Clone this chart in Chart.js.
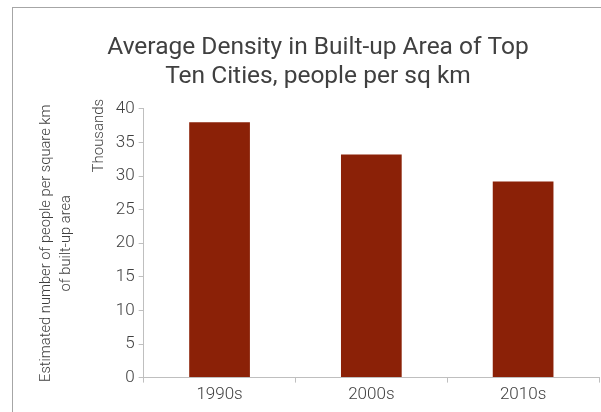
<!DOCTYPE html>
<html>
<head>
<meta charset="utf-8">
<script src="https://cdn.jsdelivr.net/npm/chart.js@4"></script>
<style>
html,body{margin:0;padding:0;background:#fff;overflow:hidden;width:601px;height:412px;}
#frame{position:absolute;left:12px;top:7px;width:596px;height:420px;border:1px solid #a6a6a6;background:#fff;}
#c{display:block;}
</style>
</head>
<body>
<div id="frame"><canvas id="c" width="596" height="399"></canvas></div>
<script>
const categories = ["1990s", "2000s", "2010s"];
const densityThousands = [38.0, 33.2, 29.2];
const titleLines = ["Average Density in Built-up Area of Top", "Ten Cities, people per sq km"];
const yTitleLines = ["Estimated number of people per square km", "of built-up area"];
const unitLabel = "Thousands";

const FONT = "Roboto, sans-serif";

const unitPlugin = {
  id: 'unitLabel',
  afterDraw(chart) {
    const ctx = chart.ctx;
    const area = chart.chartArea;
    ctx.save();
    ctx.font = "300 15px " + FONT;
    ctx.fillStyle = "#404040";
    ctx.translate(area.left - 44, area.top - 10);
    ctx.rotate(-Math.PI / 2);
    ctx.textAlign = "right";
    ctx.textBaseline = "middle";
    ctx.fillText(unitLabel, 0, 0);
    ctx.restore();
  }
};

new Chart(document.getElementById('c'), {
  type: 'bar',
  data: {
    labels: categories,
    datasets: [{
      data: densityThousands,
      backgroundColor: '#8B2107',
      borderWidth: 0,
      categoryPercentage: 1.0,
      barPercentage: 0.4
    }]
  },
  options: {
    responsive: false,
    animation: false,
    devicePixelRatio: 1,
    layout: { padding: { left: 24, right: 10, top: 0, bottom: 0 } },
    plugins: {
      legend: { display: false },
      tooltip: { enabled: false },
      title: {
        display: true,
        text: titleLines,
        color: '#404040',
        font: { family: FONT, size: 24.5, weight: 'normal', lineHeight: 1.2 },
        padding: { top: 25, bottom: 17 }
      }
    },
    scales: {
      x: {
        grid: { display: true, drawOnChartArea: false, drawTicks: true, tickLength: 5, color: '#bfbfbf' },
        border: { display: true, color: '#bfbfbf' },
        ticks: { color: '#404040', font: { family: FONT, size: 17, weight: 300 }, padding: 2 }
      },
      y: {
        min: 0, max: 40,
        ticks: { stepSize: 5, color: '#404040', font: { family: FONT, size: 17, weight: 300 }, padding: 4 },
        grid: { display: true, drawOnChartArea: false, drawTicks: true, tickLength: 5, color: '#bfbfbf' },
        border: { display: true, color: '#bfbfbf' },
        title: {
          display: true,
          text: yTitleLines,
          color: '#404040',
          font: { family: FONT, size: 14.7, weight: 300, lineHeight: 1.32 },
          padding: { top: 0, bottom: 36 }
        }
      }
    }
  },
  plugins: [unitPlugin]
});
</script>
</body>
</html>
